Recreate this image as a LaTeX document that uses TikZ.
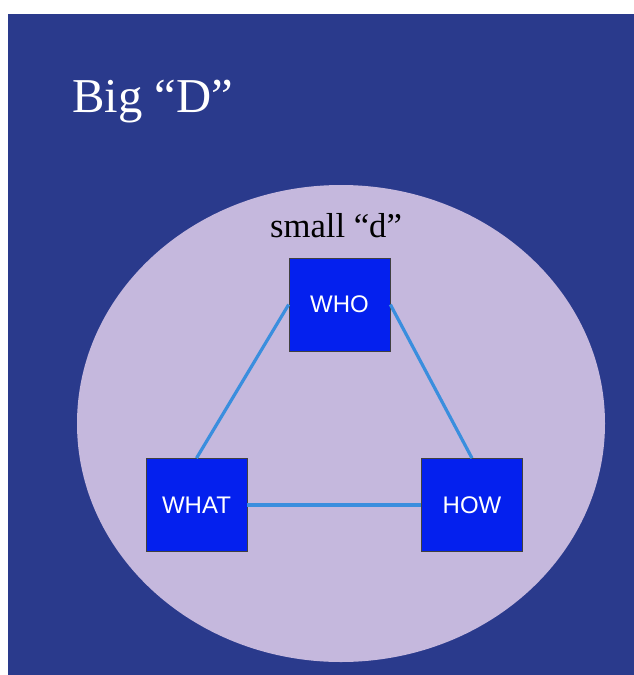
\documentclass[tikz,border=0pt]{standalone}
\usepackage{fontspec}
\setmainfont{Liberation Serif}
\newfontfamily\labelfont{Liberation Sans}
\definecolor{slidebg}{RGB}{42,58,140}
\definecolor{lavender}{RGB}{197,184,221}
\definecolor{boxblue}{RGB}{4,32,238}
\definecolor{linkblue}{RGB}{58,142,222}
\begin{document}
\begin{tikzpicture}[x=0.75pt,y=-0.75pt,
  termbox/.style={draw=black!75,line width=0.5pt,fill=boxblue,
    minimum width=75.75pt,minimum height=69.75pt,inner sep=0pt,
    text=white,font=\labelfont\fontsize{18}{21}\selectfont},
  link/.style={draw=linkblue,line width=2.4pt}]
  \useasboundingbox (0,0) rectangle (634,675);
  % slide background
  \fill[slidebg] (8,14) rectangle (634,675);
  % inner ellipse
  \fill[lavender] (341,423.5) ellipse [x radius=264, y radius=238.5];
  % titles
  \node[anchor=base west,text=white,inner sep=0pt,
    font=\fontsize{36.5}{42}\selectfont] (bigD) at (72,112) {Big “D”};
  \node[anchor=base,text=black,inner sep=0pt,
    font=\fontsize{26}{30}\selectfont] (smallD) at (336,237) {small “d”};
  % boxes
  \node[termbox] (who)  at (339.5,304.5) {WHO};
  \node[termbox] (what) at (196.5,505)   {WHAT};
  \node[termbox] (how)  at (472,505)     {HOW};
  % connectors
  \draw[link] (who.west) -- (what.north);
  \draw[link] (who.east) -- (how.north);
  \draw[link] (what.east) -- (how.west);
\end{tikzpicture}
\end{document}
